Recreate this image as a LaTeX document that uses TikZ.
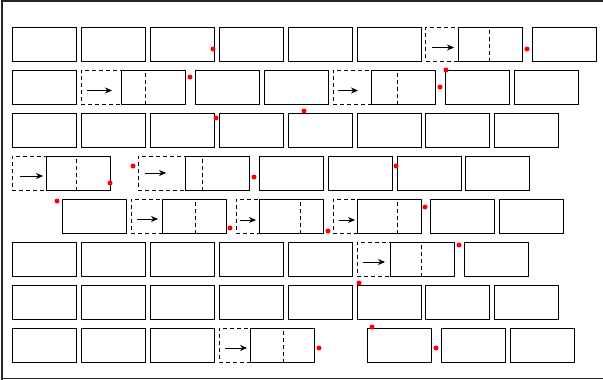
\documentclass[tikz,border=0pt]{standalone}
\usetikzlibrary{calc,arrows.meta}
\tikzset{
  bx/.style={draw, line width=0.9pt, minimum width=64pt, minimum height=34pt, inner sep=0pt, outer sep=0pt, anchor=north west},
  dbx/.style={bx, dash pattern=on 4pt off 3pt},
  reddot/.style={circle, fill=red, draw=none, inner sep=0pt, minimum size=5pt},
  arr/.style={line width=0.8pt, -{Stealth[length=7pt,width=6pt]}}
}
\begin{document}
\begin{tikzpicture}[x=1pt,y=-1pt]
\useasboundingbox (0,0) rectangle (603,380);
\draw[line width=1.5pt, black!85] (2.2,630) -- (2.2,1.2) -- (620,1.2);
\draw[line width=1.5pt, black!85] (2.2,378.5) -- (620,378.5);
% row 1
\foreach \x [count=\i] in {12,81,150,219,288,357,458,532} \node[bx] (ra\i) at (\x,27) {};
\node[dbx] (da1) at (425.5,27) {};
% row 2
\foreach \x [count=\i] in {12,121,195,264,371,445,514} \node[bx] (rb\i) at (\x,70) {};
\node[dbx] (db1) at (81,70) {};
\node[dbx] (db2) at (333,70) {};
% row 3
\foreach \x [count=\i] in {12,81,150,219,288,357,425.5,494.5} \node[bx] (rc\i) at (\x,113) {};
% row 4
\foreach \x [count=\i] in {46,185,259,328,397,465} \node[bx] (rd\i) at (\x,156) {};
\node[dbx] (dd1) at (12,156) {};
\node[dbx] (dd2) at (138,156) {};
% row 5
\foreach \x [count=\i] in {62,162,259,357,430,499} \node[bx] (re\i) at (\x,199) {};
\node[dbx] (de1) at (131,199) {};
\node[dbx] (de2) at (236,199) {};
\node[dbx] (de3) at (333,199) {};
% row 6
\foreach \x [count=\i] in {12,81,150,219,288,390,464} \node[bx] (rf\i) at (\x,242) {};
\node[dbx] (df1) at (357,242) {};
% row 7
\foreach \x [count=\i] in {12,81,150,219,288,357,425.5,494.5} \node[bx] (rg\i) at (\x,285) {};
% row 8
\foreach \x [count=\i] in {12,81,150,250,367,441,510} \node[bx] (rh\i) at (\x,328) {};
\node[dbx] (dh1) at (219,328) {};
% arrows
\draw[arr] ($(da1.west)+(6,3.5)$) -- ($(ra7.west)+(-4,3.5)$);
\draw[arr] ($(db1.west)+(6,3.5)$) -- ($(rb2.west)+(-9,3.5)$);
\draw[arr] ($(db2.west)+(5,3.5)$) -- ($(rb5.west)+(-13,3.5)$);
\draw[arr] ($(dd1.west)+(8,3)$) -- ($(rd1.west)+(-3,3)$);
\draw[arr] ($(dd2.west)+(7,0)$) -- ($(rd2.west)+(-19,0)$);
\draw[arr] ($(de1.west)+(6,3)$) -- ($(re2.west)+(-4,3)$);
\draw[arr] ($(de2.west)+(4,4)$) -- ($(re3.west)+(-3,4)$);
\draw[arr] ($(de3.west)+(6,4)$) -- ($(re4.west)+(-2,4)$);
\draw[arr] ($(df1.west)+(6,3)$) -- ($(rf6.west)+(-5,3)$);
\draw[arr] ($(dh1.west)+(6,3)$) -- ($(rh4.west)+(-3,3)$);
% red dots
\node[reddot] (p1) at (213,49) {};
\node[reddot] (p2) at (527,49) {};
\node[reddot] (p3) at (190,77) {};
\node[reddot] (p4) at (440,87) {};
\node[reddot] (p5) at (446,70) {};
\node[reddot] (p6) at (216,118) {};
\node[reddot] (p7) at (304,111) {};
\node[reddot] (p8) at (110,183) {};
\node[reddot] (p9) at (133,166) {};
\node[reddot] (p10) at (254,177) {};
\node[reddot] (p11) at (396,166) {};
\node[reddot] (p12) at (57,201) {};
\node[reddot] (p13) at (230,228) {};
\node[reddot] (p14) at (328,231) {};
\node[reddot] (p15) at (425,207) {};
\node[reddot] (p16) at (459,245) {};
\node[reddot] (p17) at (359,283) {};
\node[reddot] (p18) at (319,348) {};
\node[reddot] (p19) at (372,327) {};
\node[reddot] (p20) at (436,348) {};
\end{tikzpicture}
\end{document}
